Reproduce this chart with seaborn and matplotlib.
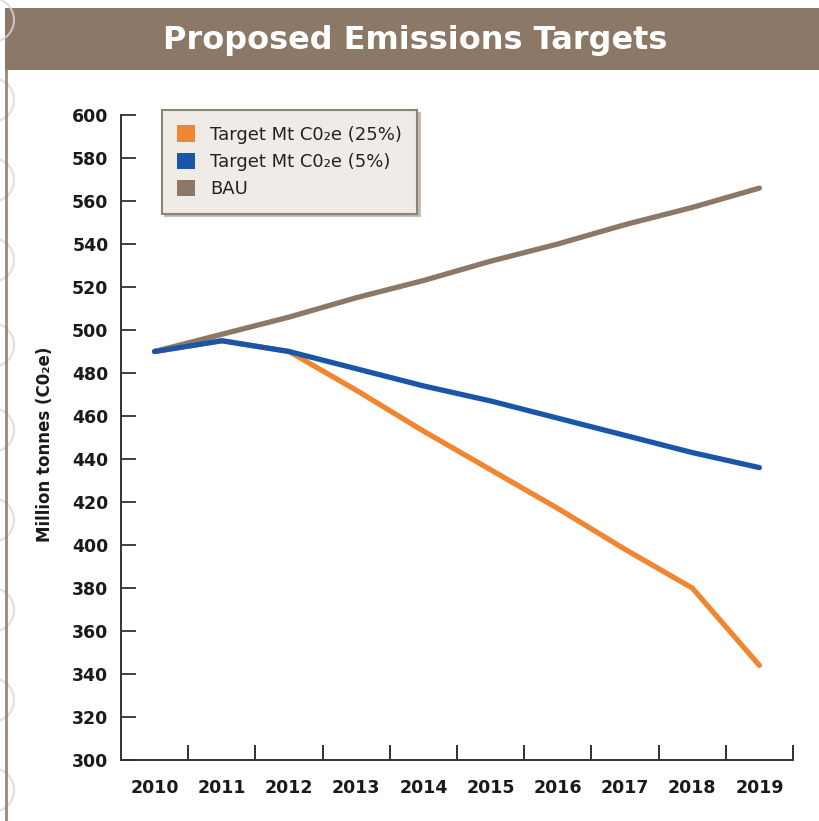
import matplotlib
matplotlib.use("Agg")
import matplotlib.pyplot as plt
from matplotlib.patches import Patch, Rectangle, Circle
from matplotlib.lines import Line2D
import numpy as np
import pandas as pd
import seaborn as sns

# ---- data ----
years = ["2010", "2011", "2012", "2013", "2014", "2015", "2016", "2017", "2018", "2019"]
target_25 = [490, 495, 490, 472, 453, 435, 417, 398, 380, 344]
target_5 = [490, 495, 490, 482, 474, 467, 459, 451, 443, 436]
bau = [490, 498, 506, 515, 523, 532, 540, 549, 557, 566]

series_names = ["Target Mt C0\u2082e (25%)", "Target Mt C0\u2082e (5%)", "BAU"]
series_colors = ["#F0862F", "#1A56A8", "#8B7866"]

y_ticks = list(range(300, 601, 20))

df = pd.DataFrame({
    "pos": list(range(len(years))) * 3,
    "value": bau + target_25 + target_5,
    "series": [series_names[2]] * len(years) + [series_names[0]] * len(years) + [series_names[1]] * len(years),
})

sns.set_theme(style="white")
plt.rcParams["font.family"] = ["DejaVu Sans"]

fig = plt.figure(figsize=(8.2, 8.21), dpi=100)
fig.patch.set_facecolor("white")

# title band
fig.patches.append(Rectangle((5 / 820, 1 - 70 / 821), 1, 62 / 821, transform=fig.transFigure,
                             facecolor="#8B7866", edgecolor="none", zorder=0))
fig.text(415 / 820, 1 - 41 / 821, "Proposed Emissions Targets", color="white",
         fontsize=23, fontweight="bold", ha="center", va="center")
# left frame line
fig.add_artist(Line2D([6.5 / 820, 6.5 / 820], [0, 1 - 70 / 821], transform=fig.transFigure,
                      color="#9C8777", lw=2))
# faint decorative rings along the left border
for cy in [20, 100, 180, 260, 345, 430, 520, 610, 700, 790]:
    fig.add_artist(Circle((-8 / 820, 1 - cy / 821), 22 / 820, transform=fig.transFigure,
                          fill=False, edgecolor="#D8D8D8", lw=1.5, alpha=0.8))

ax = fig.add_axes([121 / 820, 61 / 821, 672 / 820, 645 / 821])
palette = {series_names[0]: series_colors[0], series_names[1]: series_colors[1],
           series_names[2]: series_colors[2]}
sns.lineplot(data=df, x="pos", y="value", hue="series",
             hue_order=[series_names[2], series_names[0], series_names[1]],
             palette=palette, linewidth=3.8, legend=False, ax=ax,
             solid_capstyle="round", solid_joinstyle="round")

ax.set_xlim(-0.5, len(years) - 0.5)
ax.set_ylim(300, 600)
ax.set_yticks(y_ticks)
ax.set_yticklabels([str(v) for v in y_ticks], fontsize=12.5, fontweight="bold", color="#1a1a1a")
ax.set_xticks(range(len(years)))
ax.set_xticklabels(years, fontsize=12.5, fontweight="bold", color="#1a1a1a")
ax.set_xticks(np.arange(0.5, len(years), 1.0), minor=True)
ax.tick_params(axis="x", which="major", bottom=True, length=0, pad=14)
ax.tick_params(axis="x", which="minor", bottom=True, direction="in", length=11, width=1.3, color="#222222")
ax.tick_params(axis="y", which="major", left=True, direction="in", length=11, width=1.3,
               color="#333333", pad=9)
ax.set_xlabel("")
ax.set_ylabel("Million tonnes (C0\u2082e)", fontsize=12, fontweight="bold", color="#1a1a1a")
ax.yaxis.set_label_coords(-0.1, 0.49)

for side in ["top", "right"]:
    ax.spines[side].set_visible(False)
for side in ["left", "bottom"]:
    ax.spines[side].set_color("#333333")
    ax.spines[side].set_linewidth(1.4)
ax.grid(False)
ax.set_facecolor("none")

handles = [Patch(facecolor=c, edgecolor="none") for c in series_colors]
leg = fig.legend(handles, series_names, loc="upper left",
                 bbox_to_anchor=(162 / 820, 1 - 110 / 821), bbox_transform=fig.transFigure,
                 borderaxespad=0, frameon=True, fancybox=False,
                 shadow={"color": "#b8b2aa", "alpha": 0.8},
                 fontsize=13, handlelength=1.0, handleheight=1.0, handletextpad=0.8,
                 labelspacing=0.5, borderpad=0.85)
frame = leg.get_frame()
frame.set_facecolor("#EFECE7")
frame.set_edgecolor("#8E8274")
frame.set_linewidth(1.5)
frame.set_alpha(1)
for t in leg.get_texts():
    t.set_color("#222222")

fig.savefig("out.png", dpi=100, facecolor="white")
